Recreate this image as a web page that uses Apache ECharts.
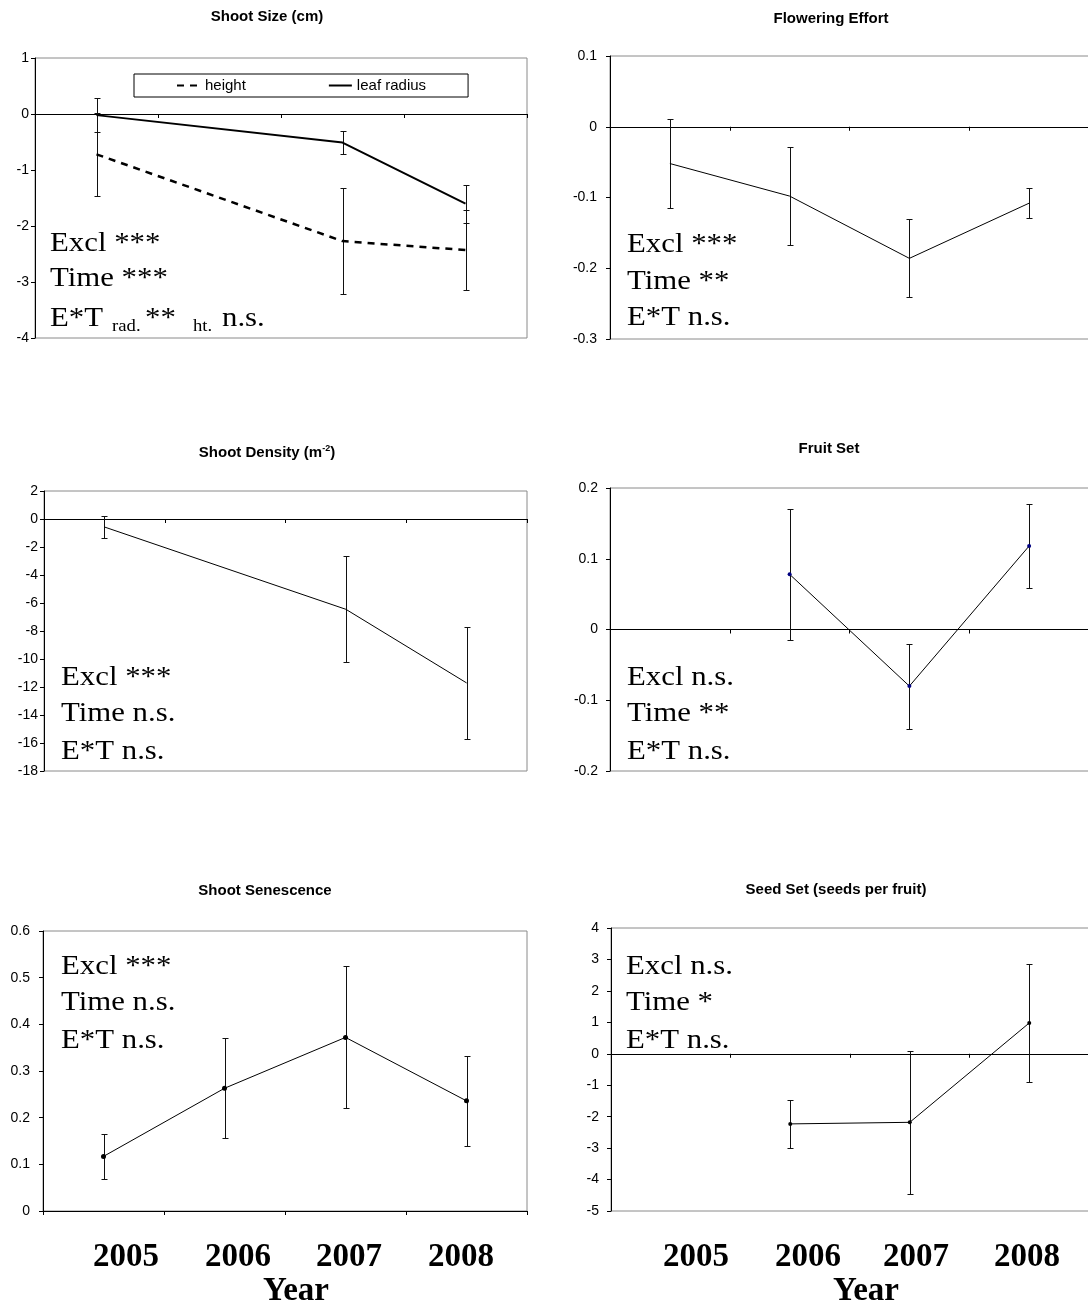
<!DOCTYPE html>
<html>
<head>
<meta charset="utf-8">
<script src="https://cdn.jsdelivr.net/npm/echarts@6/dist/echarts.min.js"></script>
<style>
  html, body { margin: 0; padding: 0; background: #fff; }
  #chart { width: 1088px; height: 1304px; }
</style>
</head>
<body>
<div id="chart"></div>
<script>
// ---- data -------------------------------------------------------------
const years = ['2005', '2006', '2007', '2008'];

// Shoot size (cm): means and standard errors, no 2006 census
const sizeHeight = [-0.72, null, -2.27, -2.43];
const sizeHeightErr = [0.74, null, 0.95, 0.72];
const sizeRadius = [-0.02, null, -0.51, -1.60];
const sizeRadiusErr = [0.31, null, 0.21, 0.34];

// Flowering effort
const flowering = [-0.052, -0.098, -0.186, -0.108];
const floweringErr = [0.063, 0.069, 0.055, 0.021];

// Shoot density (m^-2)
const density = [-0.57, null, -6.45, -11.71];
const densityErr = [0.81, null, 3.79, 3.98];

// Fruit set
const fruit = [null, 0.078, -0.080, 0.118];
const fruitErr = [null, 0.093, 0.060, 0.060];

// Shoot senescence
const senescence = [0.117, 0.263, 0.372, 0.236];
const senescenceErr = [0.048, 0.107, 0.152, 0.097];

// Seed set (seeds per fruit)
const seed = [null, -2.23, -2.18, 0.98];
const seedErr = [null, 0.77, 2.27, 1.87];

// Panel titles and significance notes
const titles = ['Shoot Size (cm)', 'Flowering Effort', 'Shoot Density (m-2)',
                'Fruit Set', 'Shoot Senescence', 'Seed Set (seeds per fruit)'];
const stats = [
  ['Excl ***', 'Time ***', null],
  ['Excl ***', 'Time **', 'E*T n.s.'],
  ['Excl ***', 'Time n.s.', 'E*T n.s.'],
  ['Excl n.s.', 'Time **', 'E*T n.s.'],
  ['Excl ***', 'Time n.s.', 'E*T n.s.'],
  ['Excl n.s.', 'Time *', 'E*T n.s.']
];
const yRanges = [[-4, 1, 1], [-0.3, 0.1, 0.1], [-18, 2, 2], [-0.2, 0.2, 0.1], [0, 0.6, 0.1], [-5, 4, 1]];

// ---- layout -----------------------------------------------------------
const grids = [
  { left: 35,  top: 58,  width: 492, height: 280 },
  { left: 610, top: 56,  width: 479, height: 283 },
  { left: 44,  top: 491, width: 483, height: 280 },
  { left: 610, top: 488, width: 479, height: 283 },
  { left: 43,  top: 931, width: 484, height: 280 },
  { left: 611, top: 928, width: 478, height: 283 }
];
const labelMargins = [6, 13, 6, 12, 13, 12];
const titleCenters = [[267, 16], [831, 18], [267, 452], [829, 448], [265, 890], [836, 889]];
const statsLeft = [50, 627, 61, 627, 61, 626];
const statsBase = [[253, 288, 328], [254, 291, 327], [687, 723, 761],
                   [687, 723, 761], [976, 1012, 1050], [976, 1012, 1050]];
const yearOffsets = [[83, 195, 306, 418], [85, 197, 305, 416]];
const yearTitleOffsets = [253, 255];
const yearRowY = 1257;
const yearTitleY = 1291;

const SANS = 'Liberation Sans, Arial, sans-serif';
const SERIF = 'Liberation Serif, Times New Roman, serif';
const BIG = 28;       // significance notes
const WIDEN = 1.1;    // the notes are set slightly wide

// ---- axes -------------------------------------------------------------
const xAxes = grids.map((g, i) => ({
  type: 'category', gridIndex: i, data: years, boundaryGap: true,
  axisLine: { show: true, onZero: true, lineStyle: { color: '#000', width: 1 } },
  axisTick: { show: true, interval: 0, length: 4, inside: false, lineStyle: { color: '#000' } },
  axisLabel: { show: false },
  splitLine: { show: false }
}));
const yAxes = yRanges.map((r, i) => ({
  type: 'value', gridIndex: i, min: r[0], max: r[1], interval: r[2],
  axisLine: { show: true, lineStyle: { color: '#000', width: 1 } },
  axisTick: { show: true, length: 4, lineStyle: { color: '#000' } },
  axisLabel: { show: true, margin: labelMargins[i], color: '#000', fontFamily: SANS, fontSize: 14,
    formatter: v => String(Math.round(v * 1000) / 1000) },
  splitLine: { show: false }
}));

// ---- series helpers ---------------------------------------------------
function lineSeries(name, idx, values, style) {
  return Object.assign({
    name: name, type: 'line', xAxisIndex: idx, yAxisIndex: idx,
    data: values, connectNulls: true, animation: false, silent: true, z: 4,
    symbol: 'none', showSymbol: false,
    lineStyle: { color: '#000', width: 1 },
    itemStyle: { color: '#000' }
  }, style || {});
}

function errorSeries(idx, means, errs) {
  const rows = [];
  means.forEach((m, i) => { if (m !== null) rows.push([i, m, errs[i]]); });
  return {
    type: 'custom', xAxisIndex: idx, yAxisIndex: idx, data: rows,
    encode: { x: 0, y: 1 }, silent: true, animation: false, z: 3,
    renderItem: function (params, api) {
      const i = api.value(0), m = api.value(1), e = api.value(2);
      const hi = api.coord([i, m + e]);
      const lo = api.coord([i, m - e]);
      const x = Math.round(hi[0]) + 0.5;
      const yh = Math.round(hi[1]) + 0.5, yl = Math.round(lo[1]) + 0.5;
      const st = { stroke: '#111', lineWidth: 1 };
      return { type: 'group', children: [
        { type: 'line', shape: { x1: x, y1: yh, x2: x, y2: yl }, style: st },
        { type: 'line', shape: { x1: x - 3, y1: yh, x2: x + 3, y2: yh }, style: st },
        { type: 'line', shape: { x1: x - 3, y1: yl, x2: x + 3, y2: yl }, style: st }
      ]};
    }
  };
}

const series = [
  errorSeries(0, sizeHeight, sizeHeightErr),
  errorSeries(0, sizeRadius, sizeRadiusErr),
  lineSeries('height', 0, sizeHeight, { lineStyle: { color: '#000', width: 2.5, type: [7, 6] } }),
  lineSeries('leaf radius', 0, sizeRadius, { lineStyle: { color: '#000', width: 2 } }),

  errorSeries(1, flowering, floweringErr),
  lineSeries('flowering', 1, flowering),

  errorSeries(2, density, densityErr),
  lineSeries('density', 2, density),

  errorSeries(3, fruit, fruitErr),
  lineSeries('fruit', 3, fruit, { symbol: 'circle', symbolSize: 4, showSymbol: true,
    itemStyle: { color: '#000080' } }),

  errorSeries(4, senescence, senescenceErr),
  lineSeries('senescence', 4, senescence, { symbol: 'circle', symbolSize: 5, showSymbol: true }),

  errorSeries(5, seed, seedErr),
  lineSeries('seed', 5, seed, { symbol: 'circle', symbolSize: 4, showSymbol: true })
];

// ---- titles -----------------------------------------------------------
const titleOpts = titles.map((t, i) => {
  const txt = t === 'Shoot Density (m-2)' ? '{a|Shoot Density (m}{s|-2}{a|)}' : '{a|' + t + '}';
  return {
    text: txt, left: titleCenters[i][0], top: titleCenters[i][1] - 8, textAlign: 'center',
    padding: 0,
    textStyle: { rich: {
      a: { fontFamily: SANS, fontWeight: 'bold', fontSize: 15, color: '#000', lineHeight: 17 },
      s: { fontFamily: SANS, fontWeight: 'bold', fontSize: 9, color: '#000', verticalAlign: 'top', lineHeight: 17 }
    } }
  };
});

// ---- free text: significance notes and year labels --------------------
const graphics = [];
function txt(x, baseline, s, size) {
  graphics.push({
    type: 'text', x: x, y: baseline - Math.round(size * 0.31), scaleX: WIDEN,
    silent: true, z: 10,
    style: { text: s, fill: '#000', font: size + 'px ' + SERIF, align: 'left', verticalAlign: 'middle' }
  });
}
stats.forEach((lines, p) => {
  lines.forEach((s, k) => { if (s) txt(statsLeft[p], statsBase[p][k], s, BIG); });
});
// interaction line of the shoot-size panel, with subscripted trait names
txt(50, 328, 'E*T', BIG);
txt(112, 332, 'rad.', 17);
txt(145, 328, '**', BIG);
txt(193, 332, 'ht.', 17);
txt(222, 328, 'n.s.', BIG);

[4, 5].forEach((p, col) => {
  years.forEach((y, i) => {
    graphics.push({ type: 'text', x: grids[p].left + yearOffsets[col][i], y: yearRowY, silent: true,
      style: { text: y, fill: '#000', font: 'bold 33px ' + SERIF, align: 'center', verticalAlign: 'middle' } });
  });
  graphics.push({ type: 'text', x: grids[p].left + yearTitleOffsets[col], y: yearTitleY, silent: true,
    style: { text: 'Year', fill: '#000', font: 'bold 33px ' + SERIF, align: 'center', verticalAlign: 'middle' } });
});

// ---- chart ------------------------------------------------------------
const chart = echarts.init(document.getElementById('chart'), null, { renderer: 'canvas' });
chart.setOption({
  backgroundColor: '#fff',
  animation: false,
  title: titleOpts,
  legend: {
    data: ['height', 'leaf radius'],
    left: 134, top: 74,
    orient: 'horizontal',
    padding: [4, 42, 4, 42],
    itemGap: 82, itemWidth: 23, itemHeight: 14,
    backgroundColor: '#fff', borderColor: '#000', borderWidth: 1, borderRadius: 0,
    selectedMode: false,
    itemStyle: { opacity: 0, color: 'transparent', borderWidth: 0 },
    lineStyle: { opacity: 1 },
    textStyle: { fontFamily: SANS, fontSize: 15, color: '#000' }
  },
  grid: grids.map(g => Object.assign({
    show: true, borderColor: '#8a8a8a', borderWidth: 1, backgroundColor: 'transparent',
    containLabel: false, outerBoundsMode: 'none'
  }, g)),
  xAxis: xAxes,
  yAxis: yAxes,
  series: series,
  graphic: graphics
});
</script>
</body>
</html>
